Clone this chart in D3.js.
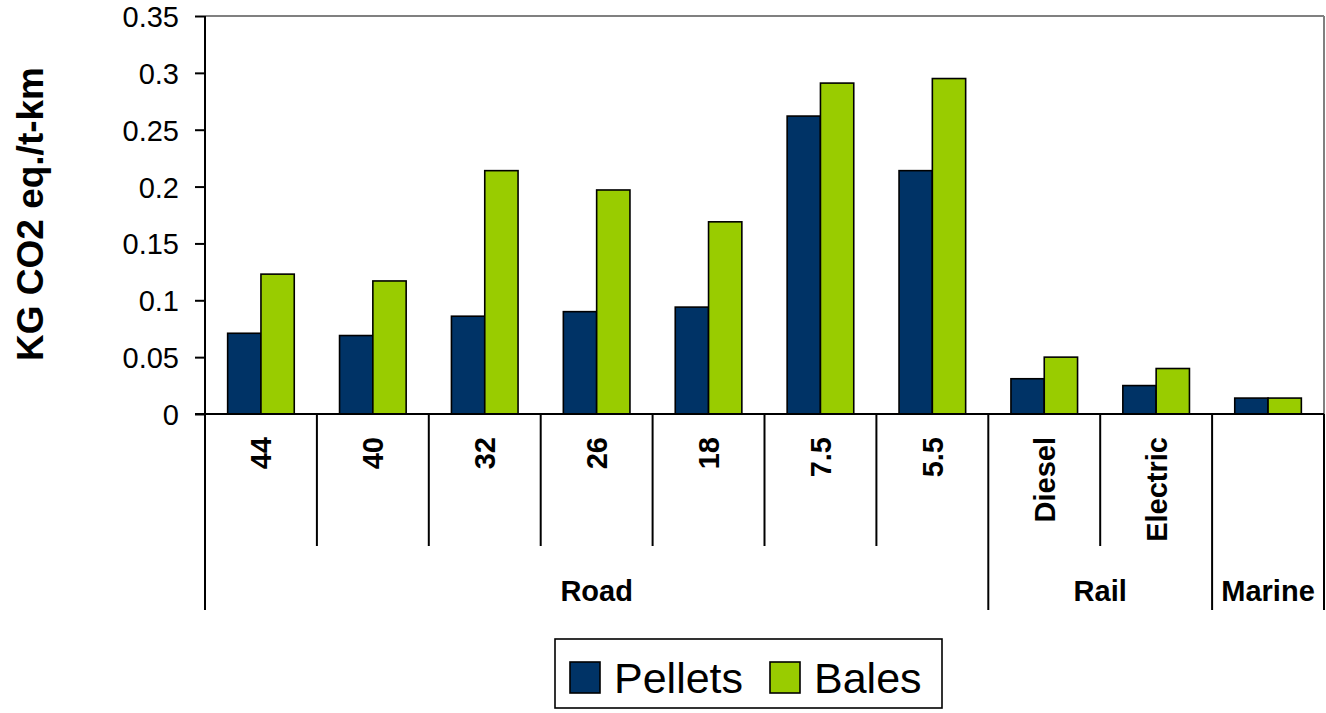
<!DOCTYPE html>
<html>
<head>
<meta charset="utf-8">
<script src="https://cdn.jsdelivr.net/npm/d3@7"></script>
<style>
  html, body { margin: 0; padding: 0; background: #fff; }
  svg { display: block; }
  text { font-family: "Liberation Sans", Arial, sans-serif; fill: #000; }
</style>
</head>
<body>
<svg id="chart" width="1326" height="713"></svg>
<script>
// ---- data ----
const categories = ["44", "40", "32", "26", "18", "7.5", "5.5", "Diesel", "Electric", "Marine"];
const categoryLabels = ["44", "40", "32", "26", "18", "7.5", "5.5", "Diesel", "Electric", ""];
const groups = [
  { name: "Road", from: 0, to: 6 },
  { name: "Rail", from: 7, to: 8 },
  { name: "Marine", from: 9, to: 9 }
];
const seriesNames = ["Pellets", "Bales"];
const pellets = [0.071, 0.069, 0.086, 0.090, 0.094, 0.262, 0.214, 0.031, 0.025, 0.014];
const bales   = [0.123, 0.117, 0.214, 0.197, 0.169, 0.291, 0.295, 0.050, 0.040, 0.014];
const yTicks = [0, 0.05, 0.1, 0.15, 0.2, 0.25, 0.3, 0.35];
const yTickLabels = ["0", "0.05", "0.1", "0.15", "0.2", "0.25", "0.3", "0.35"];
const colors = ["#003366", "#99CC00"];
const yTitle = "KG CO2 eq./t-km";

(function () {
// ---- layout ----
const svg = d3.select("#chart");
const pLeft = 205, pRight = 1324, pTop = 16, pBottom = 414;

const x = d3.scaleBand().domain(categories).range([pLeft, pRight]).paddingInner(0).paddingOuter(0);
const xs = d3.scaleBand().domain(seriesNames).range([0, x.bandwidth()]).paddingInner(0).paddingOuter(0.68);
const y = d3.scaleLinear().domain([0, 0.35]).range([pBottom, pTop]);
const color = d3.scaleOrdinal().domain(seriesNames).range(colors);

// plot frame (top & right gray)
svg.append("line").attr("x1", pLeft).attr("x2", pRight).attr("y1", pTop).attr("y2", pTop)
  .attr("stroke", "#808080").attr("stroke-width", 2);
svg.append("line").attr("x1", pRight).attr("x2", pRight).attr("y1", pTop).attr("y2", pBottom)
  .attr("stroke", "#808080").attr("stroke-width", 2);

// bars
const rows = categories.map((c, i) => ({ cat: c, vals: [pellets[i], bales[i]] }));
const g = svg.append("g");
const cg = g.selectAll("g.cat").data(rows).join("g")
  .attr("transform", d => `translate(${x(d.cat)},0)`);
cg.selectAll("rect").data(d => seriesNames.map((s, k) => ({ s, v: d.vals[k] })))
  .join("rect")
  .attr("x", d => xs(d.s))
  .attr("width", xs.bandwidth())
  .attr("y", d => y(d.v))
  .attr("height", d => y(0) - y(d.v))
  .attr("fill", d => color(d.s))
  .attr("stroke", "#000")
  .attr("stroke-width", 1.6);

// y axis
const yAxis = d3.axisLeft(y).tickValues(yTicks).tickFormat((d, i) => yTickLabels[i]).tickSize(10).tickPadding(16);
const ya = svg.append("g").attr("transform", `translate(${pLeft},0)`).call(yAxis);
ya.select(".domain").attr("stroke", "#000").attr("stroke-width", 2).attr("d", `M0,${pTop}V${pBottom}`);
ya.selectAll(".tick line").attr("stroke", "#000").attr("stroke-width", 2);
ya.selectAll(".tick text")
  .style("font-family", "'Liberation Sans', Arial, sans-serif")
  .style("font-size", "29px")
  .attr("fill", "#000")
  .attr("dy", "0.36em");

// x axis baseline
svg.append("line").attr("x1", pLeft - 10).attr("x2", pRight).attr("y1", pBottom).attr("y2", pBottom)
  .attr("stroke", "#000").attr("stroke-width", 2);

// category separators
const groupStarts = new Set(groups.map(gr => gr.from));
const bounds = d3.range(categories.length + 1);
svg.append("g").selectAll("line").data(bounds).join("line")
  .attr("x1", i => i < categories.length ? x(categories[i]) : pRight)
  .attr("x2", i => i < categories.length ? x(categories[i]) : pRight)
  .attr("y1", pBottom)
  .attr("y2", i => (i === categories.length || groupStarts.has(i)) ? 610 : 546)
  .attr("stroke", "#000").attr("stroke-width", 2);

// category labels
svg.append("g").selectAll("text").data(categories).join("text")
  .attr("transform", d => `translate(${x(d) + x.bandwidth() / 2},437) rotate(-90)`)
  .attr("text-anchor", "end")
  .attr("dy", "0.36em")
  .style("font-size", "29px")
  .style("font-weight", "bold")
  .text((d, i) => categoryLabels[i]);

// group labels
svg.append("g").selectAll("text").data(groups).join("text")
  .attr("x", d => (x(categories[d.from]) + x(categories[d.to]) + x.bandwidth()) / 2)
  .attr("y", 601)
  .attr("text-anchor", "middle")
  .style("font-size", "29px")
  .style("font-weight", "bold")
  .text(d => d.name);

// y title
svg.append("text")
  .attr("transform", `translate(43,214) rotate(-90)`)
  .attr("text-anchor", "middle")
  .style("font-size", "37px")
  .style("font-weight", "bold")
  .text(yTitle);

// legend
const lg = svg.append("g");
lg.append("rect").attr("x", 555).attr("y", 639).attr("width", 387).attr("height", 69)
  .attr("fill", "#fff").attr("stroke", "#000").attr("stroke-width", 1.6);
const legX = [570, 770];
const li = lg.selectAll("g.item").data(seriesNames).join("g")
  .attr("transform", (d, i) => `translate(${legX[i]},0)`);
li.append("rect").attr("x", 0).attr("y", 662).attr("width", 30).attr("height", 31)
  .attr("fill", d => color(d)).attr("stroke", "#000").attr("stroke-width", 1.6);
li.append("text").attr("x", 44).attr("y", 693)
  .style("font-size", "43px")
  .text(d => d);
})();
</script>
</body>
</html>
